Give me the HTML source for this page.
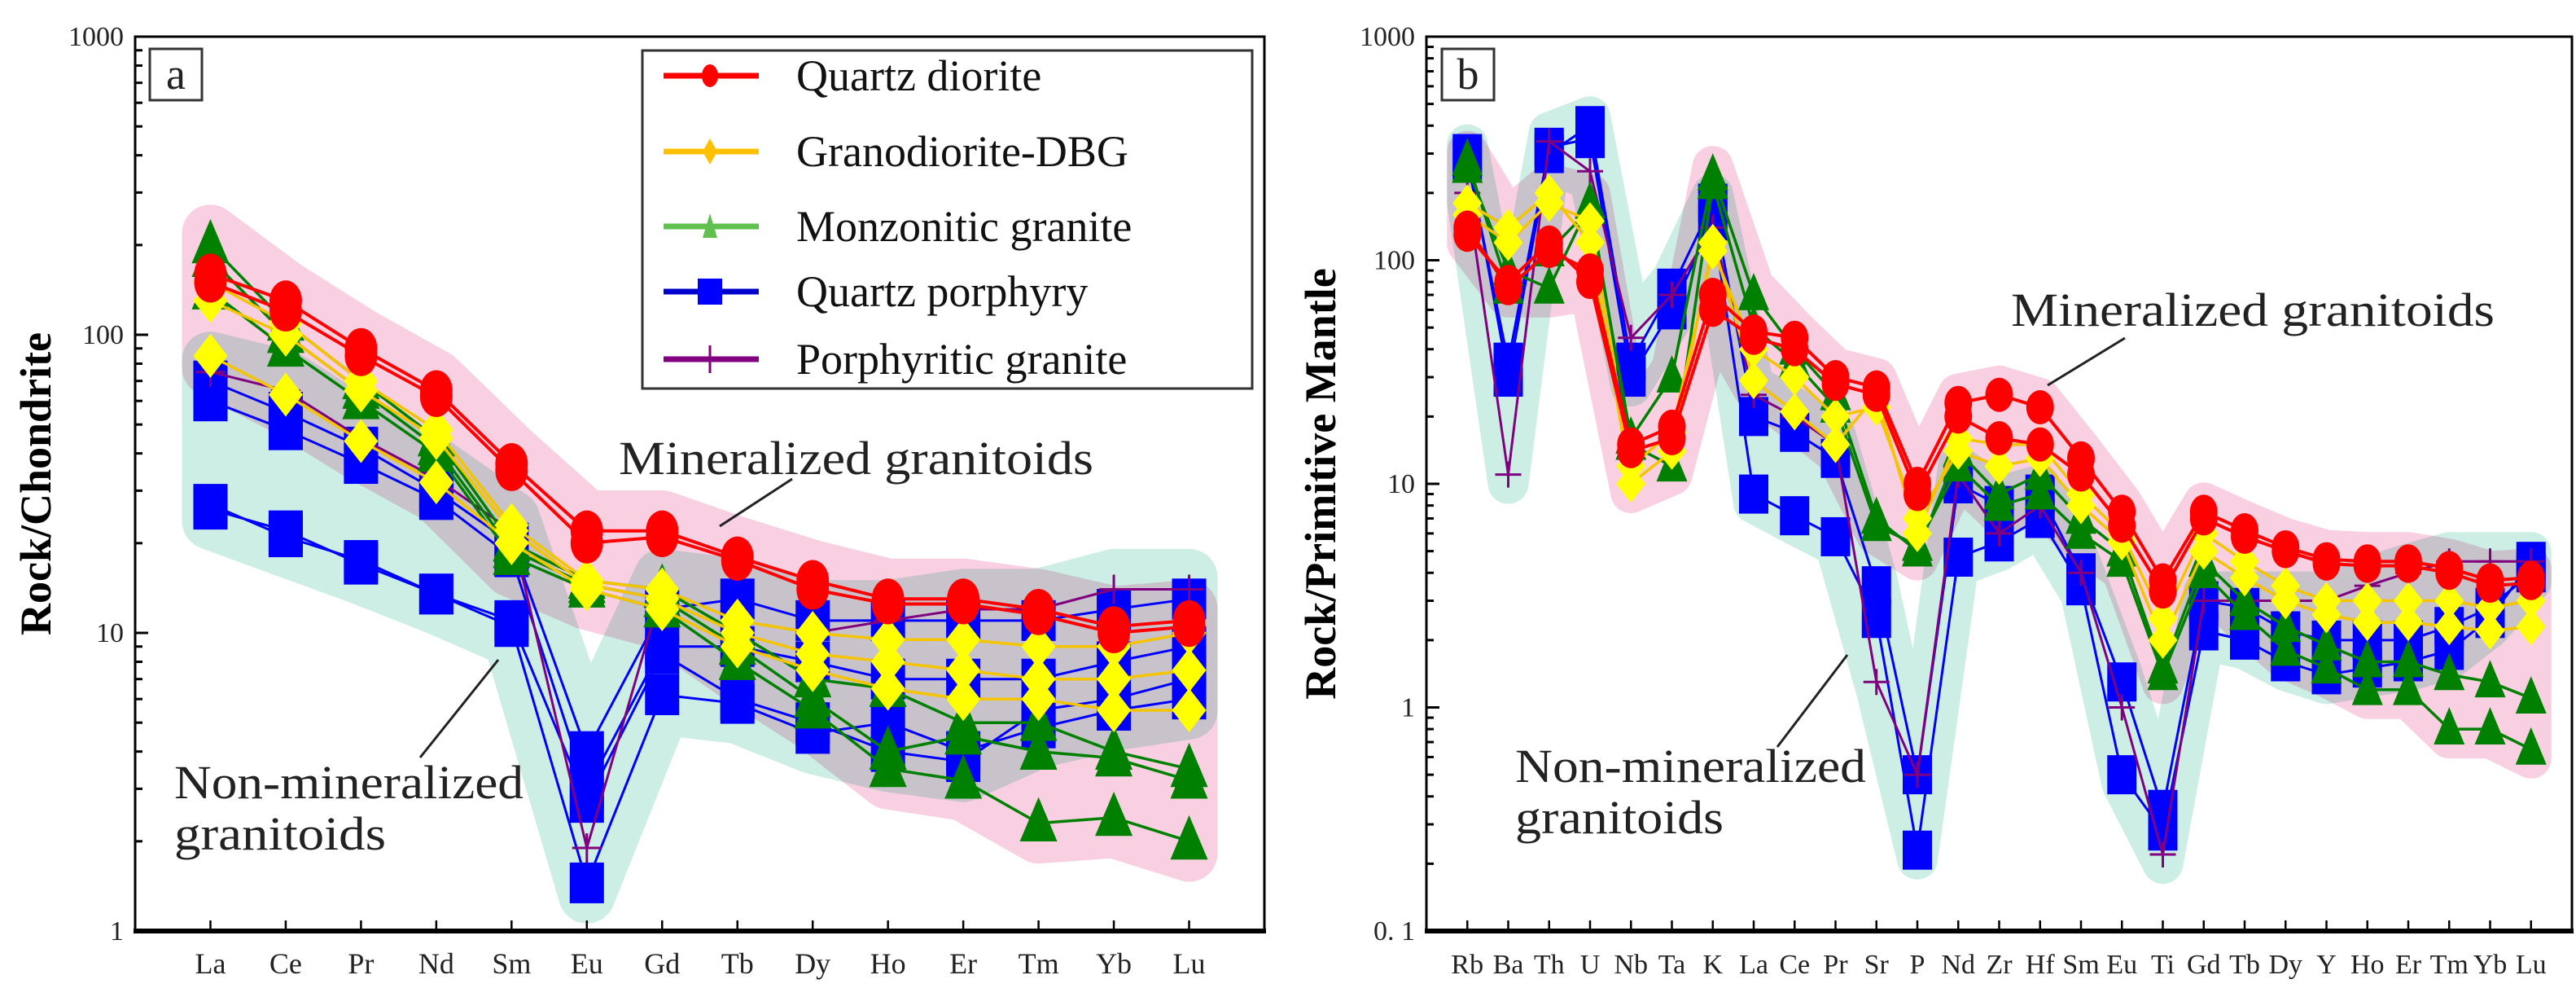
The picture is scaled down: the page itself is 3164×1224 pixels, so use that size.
<!DOCTYPE html>
<html><head><meta charset="utf-8">
<style>
html,body{margin:0;padding:0;background:#fff;}
svg, svg text{font-family:"Liberation Serif","DejaVu Serif",serif;}
</style></head>
<body>
<svg id="chart" width="3164" height="1219" viewBox="0 0 3164 1219" xmlns="http://www.w3.org/2000/svg" font-family="Liberation Serif, DejaVu Serif, serif">
<rect width="3164" height="1219" fill="#fff"/>
<g id="pa"></g>
<g id="pb"></g>
</svg>
<script>
const catsA = ["La","Ce","Pr","Nd","Sm","Eu","Gd","Tb","Dy","Ho","Er","Tm","Yb","Lu"];
const catsB = ["Rb","Ba","Th","U","Nb","Ta","K","La","Ce","Pr","Sr","P","Nd","Zr","Hf","Sm","Eu","Ti","Gd","Tb","Dy","Y","Ho","Er","Tm","Yb","Lu"];
const ticksA = [1,10,100,1000];
const tickLabelsA = ["1","10","100","1000"];
const ticksB = [0.1,1,10,100,1000];
const tickLabelsB = ["0. 1","1","10","100","1000"];

// Panel a (chondrite-normalized REE)
const qdA = [
 [160,130,90,65,37,22,22,18,15,13,13,12,10.5,11],
 [150,120,85,62,35,20,21,17.5,14,12.5,12.5,11.5,10,10.5]];
const gdA = [
 [150,110,70,48,23,15,14,11,10,9.5,9.5,9,9,10],
 [130,100,65,45,22,14.5,13,10,8.5,8,7.5,7,7,7.5],
 [85,63,44,32,20,14,12,9,7.5,6.5,6,6,5.5,5.5]];
const mgA = [
 [200,110,70,45,20,15,14,10,7,6.5,5,5,4,3.5],
 [180,100,65,42,19,14.5,13,9,6,4,4.5,4,3.8,3.2],
 [140,90,60,40,18,14,12,8,5.5,3.5,3.2,2.3,2.4,2]];
const qpA = [
 [70,55,42,30,20,4,12,13,11,11,11,11,12,13],
 [60,48,37,28,18,3,9,9,8,7,7,7,8,9],
 [27,21,17.5,13.5,11,2.7,8.5,6,5,4,3.7,5.5,6,7],
 [26,22,17,13.5,10.5,1.45,6.2,5.8,4.6,5,4,4.8,5.5,6]];
const pgA = [
 [75,65,45,33,22,1.9,14,11,10,11,12,12,14,14]];

// Panel b (primitive-mantle-normalized spider)
const qdB = [
 [140,75,110,90,15,18,70,48,45,30,27,10,23,25,22,13,7.5,3.7,7.5,6.2,5.2,4.6,4.5,4.5,4.2,3.7,3.8],
 [130,80,120,80,14,16,60,45,40,28,25,9,20,16,15,11,6.5,3.3,7,5.8,5,4.4,4.3,4.3,4,3.5,3.6]];
const gdB = [
 [180,140,200,120,10,14,120,29,21,15,25,6,16,15,15,9,6,2.5,6,4.5,3.5,3,3,3,3,2.8,3],
 [160,120,180,150,12,17,110,40,30,20,22,7,14,12,13,8,5.5,2,5,3.8,3,2.6,2.4,2.4,2.3,2.2,2.3]];
const mgB = [
 [280,75,110,170,16,30,240,70,40,25,7,5,14,9,11,7,5,1.5,4.5,3,2.3,1.9,1.6,1.6,1.4,1.3,1.1],
 [260,90,75,180,15,12,220,50,35,22,6.5,5.3,12,8,9,6,4.5,1.4,4,2.6,1.8,1.5,1.2,1.2,0.8,0.8,0.65]];
const qpB = [
 [300,30,300,400,35,75,180,20,17,13,3.5,0.5,10,8,9,4,1.3,0.35,3,2.8,2.2,2,2,2,2.3,2.8,4],
 [280,35,320,350,30,60,150,9,7.2,5.8,2.5,0.23,4.7,5.5,7,3.5,0.5,0.28,2.2,2,1.6,1.4,1.5,1.6,1.8,2.5,4.5]];
const pgB = [
 [200,11,340,250,45,70,140,25,20,15,1.3,0.5,11,6,8,4,1,0.22,3,3,3,3,3.5,4,4.5,4.5,4.5]];

const NS = "http://www.w3.org/2000/svg";
const FF = "Liberation Serif, DejaVu Serif, serif";
function mk(parent, tag, attrs){ const e=document.createElementNS(NS,tag); for(const k in attrs) e.setAttribute(k,attrs[k]); if(tag==="text") e.setAttribute("font-family",FF); parent.appendChild(e); return e; }

const colors = {qd:"#ff0000", gd:"#ffff00", gdLine:"#f5c400", mg:"#008000", qp:"#0000ff", pg:"#800080"};

function drawPanel(g, cfg){
  const {x0,x1,y0,y1,lmin,lmax,cats} = cfg;
  const n = cats.length;
  const step = (x1-x0)/(n+1);
  const xS = i => x0 + (i+1)*step;
  const yS = v => y1 - (Math.log10(v)-lmin)/(lmax-lmin)*(y1-y0);

  const env = mk(g,"g",{});
  
  
  function envelope(groups, color, pad, name){
    const up=[], lo=[];
    for(let i=0;i<n;i++){
      let mx=-9, mn=9;
      groups.forEach(s=>s.forEach(r=>{const l=Math.log10(r[i]); if(l>mx)mx=l; if(l<mn)mn=l;}));
      up.push([xS(i), yS(Math.pow(10,mx+pad))]);
      lo.push([xS(i), yS(Math.pow(10,mn-pad))]);
    }
    const pts = up.concat(lo.reverse()).map(p=>p[0].toFixed(1)+","+p[1].toFixed(1)).join(" ");
    const p = mk(env,"polygon",{points:pts, fill:color, stroke:color, "stroke-width":cfg.envStroke, "stroke-linejoin":"round", style:"mix-blend-mode:multiply"});
    
    
  }
  envelope([cfg.data.qd,cfg.data.gd,cfg.data.mg], "#f9d0e2", 0.04, "mineralized-envelope");
  envelope([cfg.data.qp,cfg.data.pg], "#cdeee4", 0.04, "non-mineralized-envelope");

  const ms = cfg.ms;
  function series(rows, key, lineColor, lw, marker, name){
    const sg = mk(g,"g",{});
    
    
    rows.forEach(r=>{
      const pts = r.map((v,i)=>xS(i).toFixed(1)+","+yS(v).toFixed(1)).join(" ");
      const pl = mk(sg,"polyline",{points:pts, fill:"none", stroke:lineColor, "stroke-width":lw, "stroke-linejoin":"round"});
      
      
    });
    rows.forEach(r=>{
      r.forEach((v,i)=>{
        const x=xS(i), y=yS(v); let m;
        if(marker==="circle") m = mk(sg,"ellipse",{cx:x,cy:y,rx:ms.c[0],ry:ms.c[1],fill:colors.qd});
        else if(marker==="diamond") m = mk(sg,"polygon",{points:`${x},${y-ms.d[1]} ${x+ms.d[0]},${y} ${x},${y+ms.d[1]} ${x-ms.d[0]},${y}`,fill:colors.gd});
        else if(marker==="tri") m = mk(sg,"polygon",{points:`${x},${y-ms.t[1]} ${x+ms.t[0]},${y+ms.t[1]*0.7} ${x-ms.t[0]},${y+ms.t[1]*0.7}`,fill:colors.mg});
        else if(marker==="square") m = mk(sg,"rect",{x:x-ms.s[0],y:y-ms.s[1],width:2*ms.s[0],height:2*ms.s[1],fill:colors.qp});
        else { m = mk(sg,"path",{d:`M${x-ms.p} ${y}H${x+ms.p}M${x} ${y-ms.p}V${y+ms.p}`,stroke:colors.pg,"stroke-width":3,fill:"none"}); }
        
        
      });
    });
  }
  series(cfg.data.qp,"qp",colors.qp,3,"square","quartz-porphyry");
  series(cfg.data.pg,"pg",colors.pg,3,"plus","porphyritic-granite");
  series(cfg.data.mg,"mg",colors.mg,3.5,"tri","monzonitic-granite");
  series(cfg.data.gd,"gd",colors.gdLine,3.5,"diamond","granodiorite-dbg");
  series(cfg.data.qd,"qd",colors.qd,4,"circle","quartz-diorite");

  const fr = mk(g,"rect",{x:x0,y:y0,width:x1-x0,height:y1-y0,fill:"none",stroke:"#000","stroke-width":3});
  
  
  const xa = mk(g,"line",{x1:x0-2,y1:y1,x2:x1+2,y2:y1,stroke:"#000","stroke-width":6});
  
  

  for(let d=lmin; d<lmax; d++){
    for(let k=2;k<10;k++){
      const v = k*Math.pow(10,d); const y=yS(v);
      const t = mk(g,"line",{x1:x0,y1:y,x2:x0+9,y2:y,stroke:"#000","stroke-width":3});
      
      
    }
  }
  cfg.ticks.forEach((v,i)=>{
    const y=yS(v);
    const t = mk(g,"line",{x1:x0,y1:y,x2:x0+16,y2:y,stroke:"#000","stroke-width":3});
    
    
    const tx = mk(g,"text",{x:x0-14,y:y+11,"font-size":34,"text-anchor":"end",fill:"#222"});
    tx.textContent = cfg.tickLabels[i];
    
    
  });
  cats.forEach((c,i)=>{
    const x=xS(i);
    const t = mk(g,"line",{x1:x,y1:y1,x2:x,y2:y1-13,stroke:"#000","stroke-width":2.5});
    
    
    const tx = mk(g,"text",{x:x,y:y1+52,"font-size":cfg.xfs,"text-anchor":"middle",fill:"#222"});
    tx.textContent = c;
    
    
  });
  const yt = mk(g,"text",{x:cfg.ytx,y:(y0+y1)/2,"font-size":54,"font-weight":"bold","text-anchor":"middle",transform:`rotate(-90 ${cfg.ytx} ${(y0+y1)/2})`,fill:"#000"});
  yt.textContent = cfg.ytitle;
  
  
  const lb = mk(g,"rect",{x:cfg.lbx,y:y0+15,width:64,height:63,fill:"#fff",stroke:"#333","stroke-width":3});
  
  
  const lt = mk(g,"text",{x:cfg.lbx+32,y:y0+64,"font-size":54,"text-anchor":"middle",fill:"#222"});
  lt.textContent = cfg.letter;
  
  
  cfg.ann.forEach(a=>{
    const ln = mk(g,"line",{x1:a.l[0],y1:a.l[1],x2:a.l[2],y2:a.l[3],stroke:"#222","stroke-width":3});
    
    
    a.t.forEach(tt=>{
      const tx = mk(g,"text",{x:tt[0],y:tt[1],"font-size":58,fill:"#222",textLength:tt[3],lengthAdjust:"spacingAndGlyphs"});
      tx.textContent = tt[2];
      
      
    });
  });
}

drawPanel(document.getElementById('pa'),{
  x0:166,x1:1553,y0:45,y1:1143,lmin:0,lmax:3,cats:catsA,ticks:ticksA,tickLabels:tickLabelsA,
  data:{qd:qdA,gd:gdA,mg:mgA,qp:qpA,pg:pgA}, envStroke:70,
  ms:{c:[20,25],d:[21,27],t:[23,32],s:[21,25],p:18}, xfs:36,
  ytx:62, ytitle:"Rock/Chondrite", lbx:184, letter:"a",
  ann:[{l:[973,588,884,646],t:[[760,582,"Mineralized granitoids",583]]},
       {l:[516,930,612,810],t:[[214,980,"Non-mineralized",429],[214,1043,"granitoids",260]]}]
});
drawPanel(document.getElementById('pb'),{
  x0:1752,x1:3159,y0:45,y1:1143,lmin:-1,lmax:3,cats:catsB,ticks:ticksB,tickLabels:tickLabelsB,
  data:{qd:qdB,gd:gdB,mg:mgB,qp:qpB,pg:pgB}, envStroke:50,
  ms:{c:[17,21],d:[18,23],t:[19,27],s:[18,24],p:16}, xfs:34,
  ytx:1640, ytitle:"Rock/Primitive Mantle", lbx:1771, letter:"b",
  ann:[{l:[2610,415,2515,473],t:[[2470,400,"Mineralized granitoids",594]]},
       {l:[2183,917,2269,804],t:[[1861,960,"Non-mineralized",431],[1861,1023,"granitoids",256]]}]
});

const lg = mk(document.getElementById('pa'),"g",{});


const lgb = mk(lg,"rect",{x:789,y:62,width:749,height:415,fill:"#fff",stroke:"#333","stroke-width":3});


const legNames = ["Quartz diorite","Granodiorite-DBG","Monzonitic granite","Quartz porphyry","Porphyritic granite"];
const legColors = ["#ff0000","#ffc000","#5fc050","#0000cc","#800080"];
const legFill = ["#ff0000","#ffc000","#5fc050","#0000ff","#800080"];
const legY = [93,186,278,358,441];
legNames.forEach((nm,i)=>{
  const y = legY[i];
  const e = mk(lg,"g",{});
  
  
  mk(e,"line",{x1:815,y1:y,x2:932,y2:y,stroke:legColors[i],"stroke-width":7});
  const cx=872;
  if(i===0) mk(e,"ellipse",{cx:cx,cy:y,rx:10,ry:14,fill:legFill[i]});
  if(i===1) mk(e,"polygon",{points:`${cx},${y-16} ${cx+9},${y} ${cx},${y+16} ${cx-9},${y}`,fill:legFill[i]});
  if(i===2) mk(e,"polygon",{points:`${cx},${y-16} ${cx+9},${y+14} ${cx-9},${y+14}`,fill:legFill[i]});
  if(i===3) mk(e,"rect",{x:cx-15,y:y-16,width:30,height:32,fill:legFill[i]});
  if(i===4) mk(e,"line",{x1:cx,y1:y-17,x2:cx,y2:y+17,stroke:legFill[i],"stroke-width":3});
  const t = mk(e,"text",{x:978,y:y+18,"font-size":54,fill:"#111"});
  t.textContent = nm;
});
</script>
</body></html>
